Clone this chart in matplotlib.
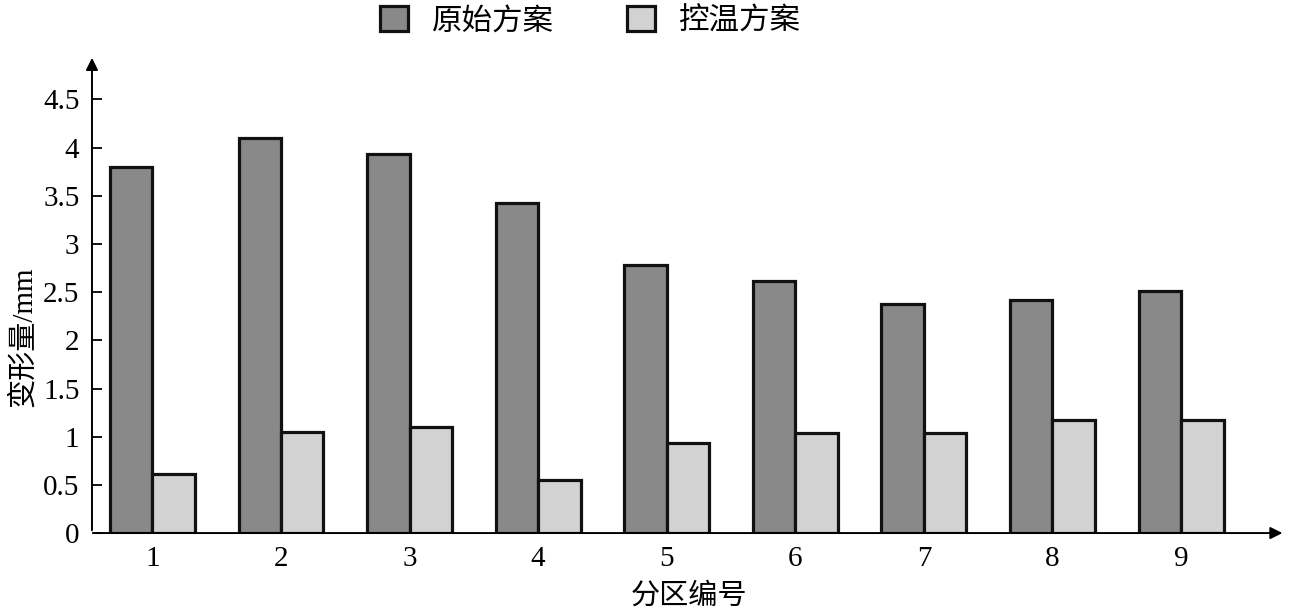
import numpy as np
import matplotlib
matplotlib.use('Agg')
import matplotlib.pyplot as plt

# data
zones     = [1, 2, 3, 4, 5, 6, 7, 8, 9]
original  = [3.80, 4.10, 3.93, 3.43, 2.78, 2.62, 2.38, 2.42, 2.51]
tempctrl  = [0.61, 1.05, 1.10, 0.55, 0.93, 1.04, 1.04, 1.17, 1.17]
yticks    = [0, 0.5, 1, 1.5, 2, 2.5, 3, 3.5, 4, 4.5]
ytick_lbl = ['0', '0.5', '1', '1.5', '2', '2.5', '3', '3.5', '4', '4.5']
names     = ['原始方案', '控温方案']

plt.rcParams['font.family'] = ['Liberation Serif', 'Noto Sans CJK SC']

fig = plt.figure(figsize=(12.9, 6.12), dpi=100)
ax = fig.add_axes([0.0713, 0.129, 0.925, 0.781])

x = np.array(zones)
w = 0.33
ax.bar(x - w/2, original, w, color='#898989', edgecolor='#111111', lw=2.3, label=names[0])
ax.bar(x + w/2, tempctrl, w, color='#d2d2d2', edgecolor='#111111', lw=2.3, label=names[1])

ax.set_xlim(0.53, 9.81)
ax.set_ylim(0, 4.96)
ax.set_xticks(zones)
ax.set_xticklabels([str(z) for z in zones])
ax.set_yticks(yticks)
ax.set_yticklabels(ytick_lbl)
ax.tick_params(axis='y', direction='in', length=7, width=1.3, pad=9, labelsize=21)
ax.tick_params(axis='x', length=0, pad=9, labelsize=21)

for s in ['top', 'right', 'left', 'bottom']:
	ax.spines[s].set_visible(False)
# axes with arrows
ax.annotate('', xy=(0, 1.0), xytext=(0, 0), xycoords='axes fraction',
			arrowprops=dict(arrowstyle='-|>', color='black', lw=1.4, mutation_scale=18))
ax.annotate('', xy=(1.0, 0), xytext=(0, 0), xycoords='axes fraction',
			arrowprops=dict(arrowstyle='-|>', color='black', lw=1.4, mutation_scale=18))

ax.set_ylabel('变形量/mm', fontsize=21)
ax.yaxis.set_label_coords(-0.046, 0.41)
ax.set_xlabel('分区编号', fontsize=21, labelpad=8)

fig.legend(loc='upper center', bbox_to_anchor=(0.458, 1.035), ncol=2, frameon=False,
		   fontsize=22, handlelength=0.9, handleheight=0.9, handletextpad=0.8,
		   columnspacing=2.4)

plt.savefig('out.png', dpi=100)
